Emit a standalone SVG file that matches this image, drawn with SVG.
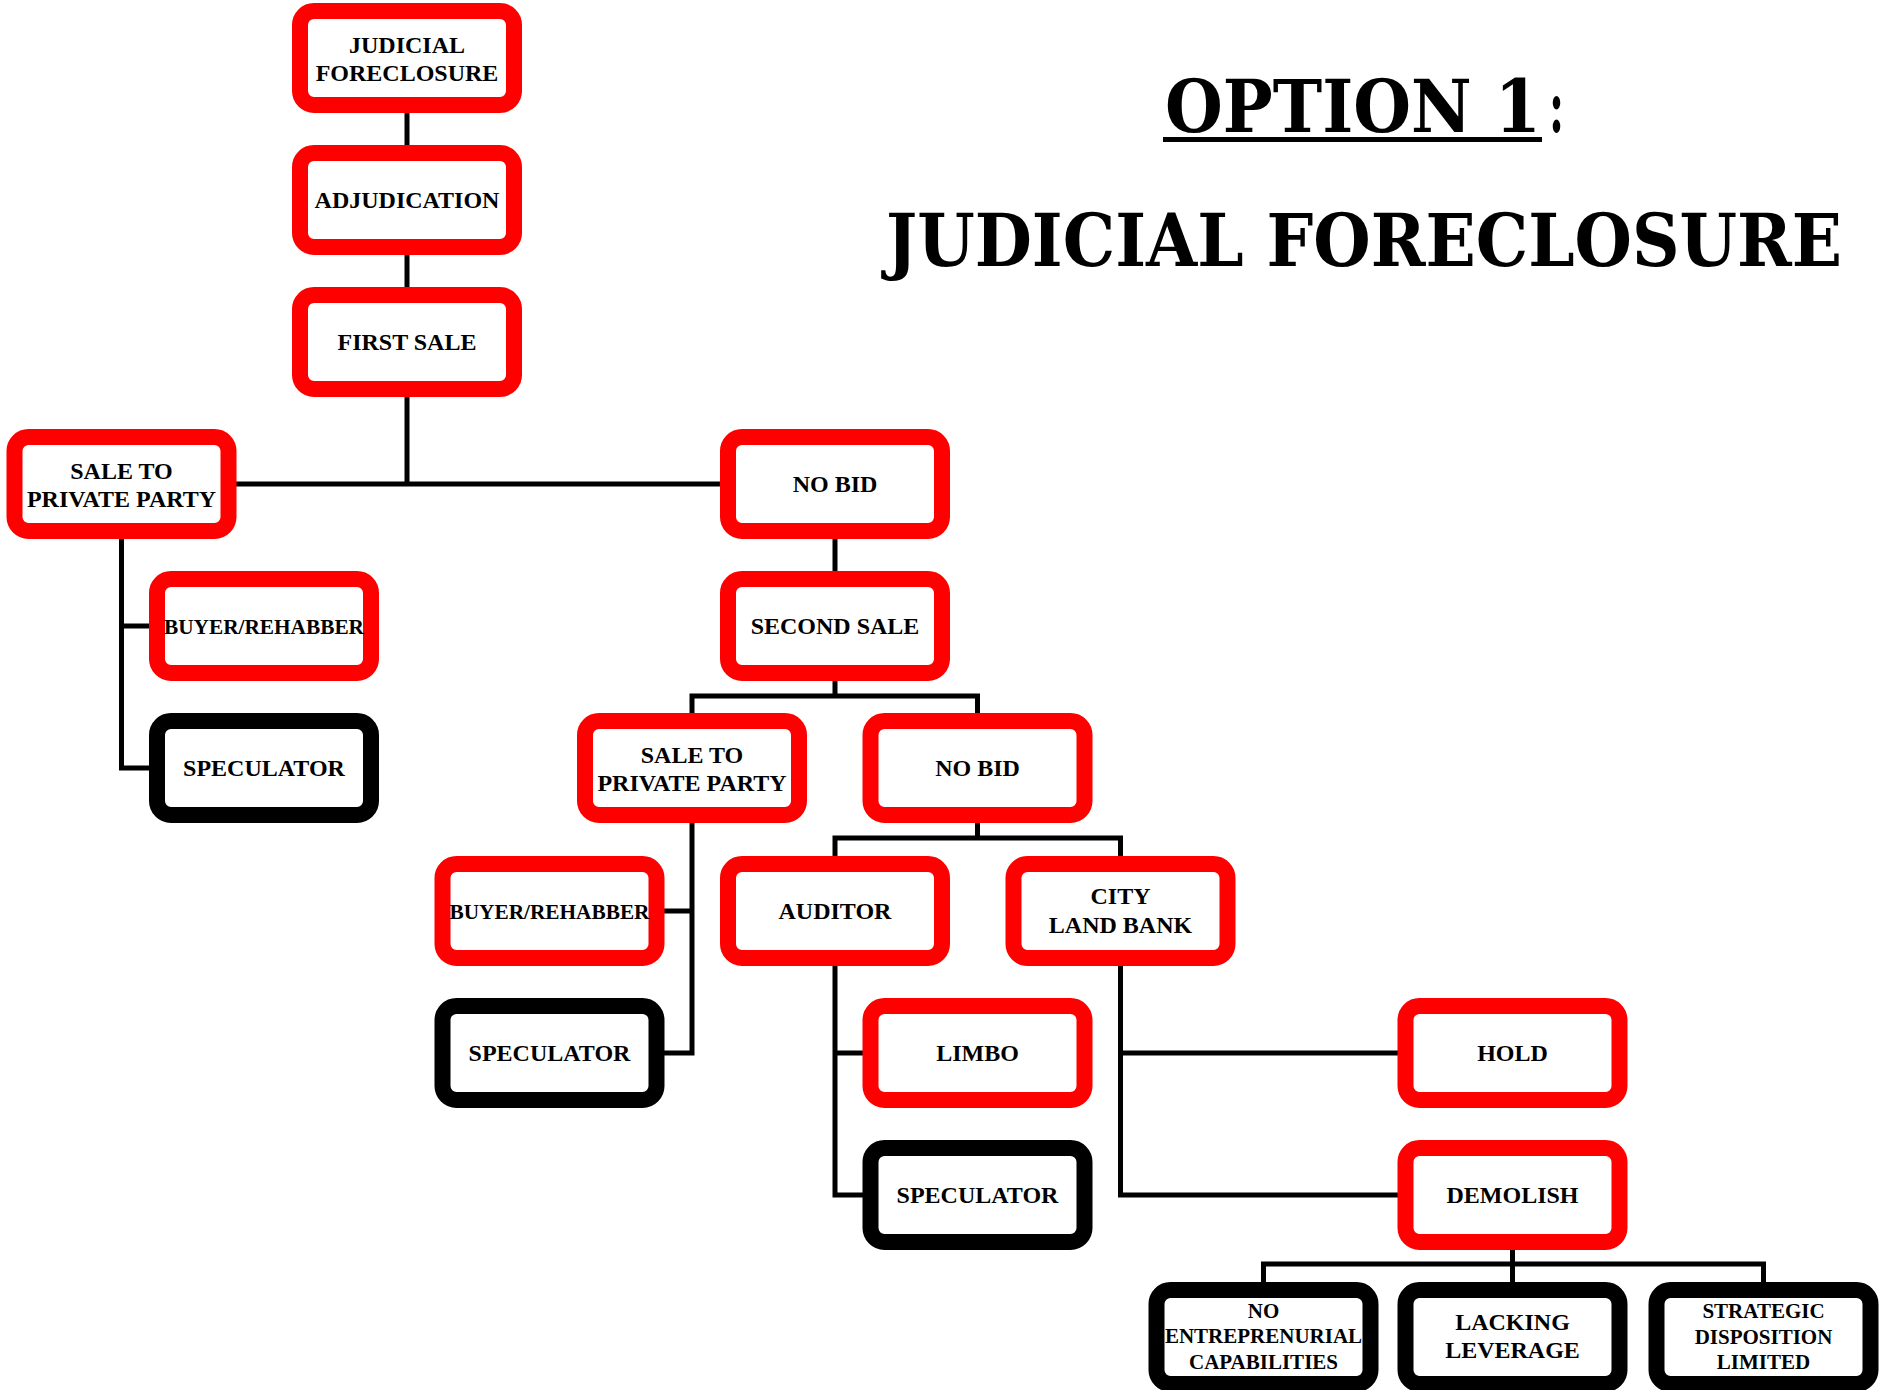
<svg xmlns="http://www.w3.org/2000/svg" width="1879" height="1390" viewBox="0 0 1879 1390">
<style>
.bg{fill:#fff}
.n rect{fill:#fff;stroke-width:16}
.r rect{stroke:#ff0000}
.k rect{stroke:#000}
.n text{font-family:"Liberation Serif","Times New Roman",serif;font-weight:bold;font-size:24px;fill:#000;text-anchor:middle}
.n text.s{font-size:21px}
#connectors path{fill:none;stroke:#000;stroke-width:5}
.title{font-family:"DejaVu Serif Condensed","DejaVu Serif",serif;font-weight:bold;font-size:72px;fill:#000}
</style>
<rect class="bg" x="0" y="0" width="1879" height="1390"/>
<g id="title">
<text class="title" x="1165" y="132" textLength="376" lengthAdjust="spacingAndGlyphs">OPTION 1</text>
<text class="title" x="1549" y="132" textLength="15" lengthAdjust="spacingAndGlyphs">:</text>
<rect x="1163" y="137" width="379" height="5" fill="#000"/>
<text class="title" x="886" y="266" textLength="956" lengthAdjust="spacingAndGlyphs">JUDICIAL FORECLOSURE</text>
</g>
<g id="connectors">
<path d="M407 58V484"/>
<path d="M121.5 484H835"/>
<path d="M121.5 484V768H264"/>
<path d="M121.5 626H264"/>
<path d="M835 484V696"/>
<path d="M692 768V696H977.5V768"/>
<path d="M692 768V1053H549.5"/>
<path d="M692 911H549.5"/>
<path d="M977.5 768V838"/>
<path d="M835 911V838H1120.5V911"/>
<path d="M835 911V1195H977.5"/>
<path d="M835 1053H977.5"/>
<path d="M1120.5 911V1195H1512.5"/>
<path d="M1120.5 1053H1512.5"/>
<path d="M1512.5 1195V1337"/>
<path d="M1263.5 1337V1264H1763.5V1337"/>
</g>
<g id="n-judicial" class="n r"><rect x="300" y="11" width="214" height="94" rx="14"/><text x="407" y="53">JUDICIAL</text><text x="407" y="81">FORECLOSURE</text></g>
<g id="n-adjudication" class="n r"><rect x="300" y="153" width="214" height="94" rx="14"/><text x="407" y="208">ADJUDICATION</text></g>
<g id="n-firstsale" class="n r"><rect x="300" y="295" width="214" height="94" rx="14"/><text x="407" y="350">FIRST SALE</text></g>
<g id="n-saleprivate1" class="n r"><rect x="14.5" y="437" width="214" height="94" rx="14"/><text x="121.5" y="479">SALE TO</text><text x="121.5" y="507">PRIVATE PARTY</text></g>
<g id="n-nobid1" class="n r"><rect x="728" y="437" width="214" height="94" rx="14"/><text x="835" y="492">NO BID</text></g>
<g id="n-buyer1" class="n r"><rect x="157" y="579" width="214" height="94" rx="14"/><text class="s" x="264" y="634" textLength="200" lengthAdjust="spacingAndGlyphs">BUYER/REHABBER</text></g>
<g id="n-secondsale" class="n r"><rect x="728" y="579" width="214" height="94" rx="14"/><text x="835" y="634">SECOND SALE</text></g>
<g id="n-speculator1" class="n k"><rect x="157" y="721" width="214" height="94" rx="14"/><text x="264" y="776">SPECULATOR</text></g>
<g id="n-saleprivate2" class="n r"><rect x="585" y="721" width="214" height="94" rx="14"/><text x="692" y="763">SALE TO</text><text x="692" y="791">PRIVATE PARTY</text></g>
<g id="n-nobid2" class="n r"><rect x="870.5" y="721" width="214" height="94" rx="14"/><text x="977.5" y="776">NO BID</text></g>
<g id="n-buyer2" class="n r"><rect x="442.5" y="864" width="214" height="94" rx="14"/><text class="s" x="549.5" y="919" textLength="200" lengthAdjust="spacingAndGlyphs">BUYER/REHABBER</text></g>
<g id="n-auditor" class="n r"><rect x="728" y="864" width="214" height="94" rx="14"/><text x="835" y="919">AUDITOR</text></g>
<g id="n-citylandbank" class="n r"><rect x="1013.5" y="864" width="214" height="94" rx="14"/><text x="1120.5" y="904">CITY</text><text x="1120.5" y="933">LAND BANK</text></g>
<g id="n-speculator2" class="n k"><rect x="442.5" y="1006" width="214" height="94" rx="14"/><text x="549.5" y="1061">SPECULATOR</text></g>
<g id="n-limbo" class="n r"><rect x="870.5" y="1006" width="214" height="94" rx="14"/><text x="977.5" y="1061">LIMBO</text></g>
<g id="n-hold" class="n r"><rect x="1405.5" y="1006" width="214" height="94" rx="14"/><text x="1512.5" y="1061">HOLD</text></g>
<g id="n-speculator3" class="n k"><rect x="870.5" y="1148" width="214" height="94" rx="14"/><text x="977.5" y="1203">SPECULATOR</text></g>
<g id="n-demolish" class="n r"><rect x="1405.5" y="1148" width="214" height="94" rx="14"/><text x="1512.5" y="1203">DEMOLISH</text></g>
<g id="n-noentre" class="n k"><rect x="1156.5" y="1290" width="214" height="94" rx="14"/><text class="s" x="1263.5" y="1318">NO</text><text class="s" x="1263.5" y="1343">ENTREPRENURIAL</text><text class="s" x="1263.5" y="1369">CAPABILITIES</text></g>
<g id="n-lacking" class="n k"><rect x="1405.5" y="1290" width="214" height="94" rx="14"/><text x="1512.5" y="1330">LACKING</text><text x="1512.5" y="1358">LEVERAGE</text></g>
<g id="n-strategic" class="n k"><rect x="1656.5" y="1290" width="214" height="94" rx="14"/><text class="s" x="1763.5" y="1318">STRATEGIC</text><text class="s" x="1763.5" y="1344">DISPOSITION</text><text class="s" x="1763.5" y="1369">LIMITED</text></g>
</svg>
